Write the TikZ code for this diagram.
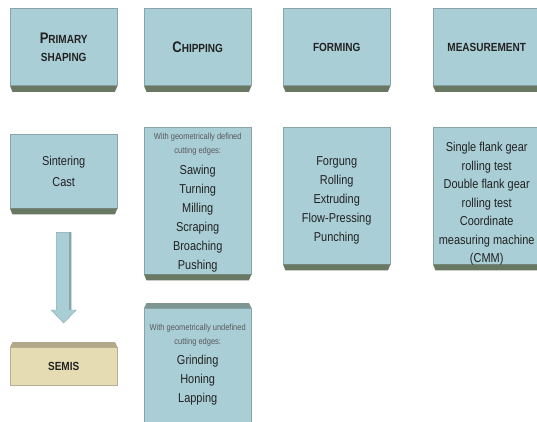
\documentclass[tikz,border=0pt]{standalone}
\usepackage{fontspec}
\setmainfont{Liberation Sans}[FakeStretch=0.85]
\usepackage{tikz}
\usetikzlibrary{positioning}
\definecolor{boxblue}{HTML}{A9CED6}
\definecolor{boxline}{HTML}{8AA5AA}
\definecolor{basegreen}{HTML}{687862}
\definecolor{semisfill}{HTML}{E5DCB4}
\definecolor{semistop}{HTML}{B2A88A}
\definecolor{toptone}{HTML}{7E9691}
\definecolor{ink}{HTML}{222222}
\newcommand{\smcap}[2]{{\fontsize{15.3}{18}\selectfont #1}{\fontsize{11.8}{18}\selectfont #2}}
\newcommand{\boxbase}[1]{\fill[basegreen] (#1.south west) -- (#1.south east) -- ([xshift=-2.5pt,yshift=-6pt]#1.south east) -- ([xshift=2.5pt,yshift=-6pt]#1.south west) -- cycle;}
\newcommand{\boxtop}[2]{\fill[#2] (#1.north west) -- (#1.north east) -- ([xshift=-2.5pt,yshift=5pt]#1.north east) -- ([xshift=2.5pt,yshift=5pt]#1.north west) -- cycle;}

\begin{document}
\begin{tikzpicture}[x=1pt,y=-1pt]
  \tikzset{
    stage/.style={draw=boxline,line width=.4pt,fill=boxblue,minimum width=107pt,anchor=north west,inner sep=0pt,align=center,text=ink},
    head/.style={stage,minimum height=77pt,font=\fontsize{11.8}{18}\selectfont\bfseries},
    list/.style={anchor=north,inner sep=0pt,align=center,text=ink,font=\fontsize{12.9}{19}\selectfont},
    note/.style={list,text=ink!75,font=\fontsize{8.8}{14}\selectfont}
  }
  \clip (0,0) rectangle (537,422);
  \fill[white] (0,0) rectangle (537,422);
  % top row
  \node[head] (prim) at (10,8.5) {\smcap{P}{RIMARY}\\SHAPING};
  \node[head] (chip) at (144,8.5) {\smcap{C}{HIPPING}};
  \node[head] (form) at (283,8.5) {FORMING};
  \node[head] (meas) at (433,8.5) {MEASUREMENT};
  \foreach \n in {prim,chip,form,meas} {\boxbase{\n}}
  % second row
  \node[stage,minimum height=74pt] (sint) at (10,134) {};
  \node[stage,minimum height=147pt] (chipA) at (144,127) {};
  \node[stage,minimum height=137pt] (formL) at (283,127) {};
  \node[stage,minimum height=137pt] (measL) at (433,127) {};
  \foreach \n in {sint,chipA,formL,measL} {\boxbase{\n}}
  \node[list,font=\fontsize{12.9}{21}\selectfont,below=22pt of sint.north] (sinttxt) {Sintering\\Cast};
  \node[note,below=6pt of chipA.north] (chipAnote) {With geometrically defined\\cutting edges:};
  \node[list,below=38pt of chipA.north] (chipAtxt) {Sawing\\Turning\\Milling\\Scraping\\Broaching\\Pushing};
  \node[list,below=29pt of formL.north] (formtxt) {Forgung\\Rolling\\Extruding\\Flow-Pressing\\Punching};
  \node[list,font=\fontsize{12.9}{18.5}\selectfont,below=15pt of measL.north] (meastxt) {Single flank gear\\rolling test\\Double flank gear\\rolling test\\Coordinate\\measuring machine\\(CMM)};
  % lower boxes
  \node[stage,fill=semisfill,draw=semisfill!80!black,minimum height=38pt,font=\fontsize{11.8}{12}\selectfont\bfseries] (semis) at (10,347) {SEMIS};
  \boxtop{semis}{semistop}
  \node[stage,minimum height=120pt] (chipB) at (144,308) {};
  \boxtop{chipB}{toptone}
  \node[note,below=16pt of chipB.north] (chipBnote) {With geometrically undefined\\cutting edges:};
  \node[list,below=47pt of chipB.north] (chipBtxt) {Grinding\\Honing\\Lapping};
  % block arrow
  \coordinate (arrtop) at ([yshift=-24pt]sint.south);
  \coordinate (arrtip) at ([yshift=24pt]semis.north);
  \filldraw[fill=boxblue,draw=boxline,line width=.4pt] ([xshift=-7.5pt]arrtop) -- ([xshift=7.5pt]arrtop) -- ([xshift=7.5pt,yshift=13pt]arrtip) -- ([xshift=12.5pt,yshift=13pt]arrtip) -- (arrtip) -- ([xshift=-12.5pt,yshift=13pt]arrtip) -- ([xshift=-7.5pt,yshift=13pt]arrtip) -- cycle;
  \fill[boxline] ([xshift=5.5pt]arrtop) rectangle ([xshift=7.5pt,yshift=13pt]arrtip);
\end{tikzpicture}
\end{document}
